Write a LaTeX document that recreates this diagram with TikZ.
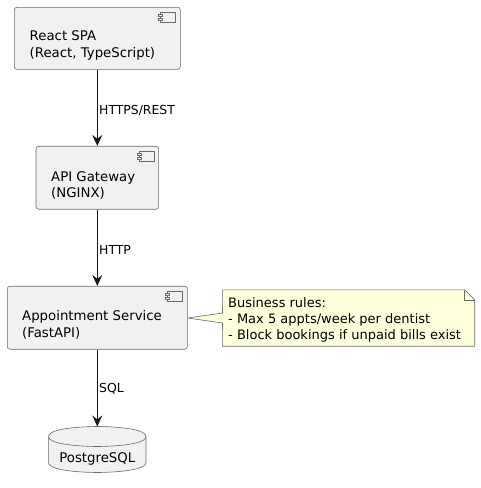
\documentclass[tikz,border=0pt]{standalone}
\usepackage{fontspec}
\setmainfont{DejaVu Sans}
\usetikzlibrary{arrows.meta}
\definecolor{boxfill}{HTML}{F1F1F1}
\definecolor{notefill}{HTML}{FEFFDD}
\definecolor{edgeink}{HTML}{181818}
\definecolor{skinink}{HTML}{6A6A6A}
\tikzset{
	compbox/.style={draw=skinink,fill=boxfill,line width=0.6pt,rounded corners=2.5pt,inner sep=0pt},
	boxtext/.style={anchor=west,align=left,inner sep=0pt,font=\fontsize{13.3}{16.7}\selectfont},
	edgelabel/.style={anchor=west,inner sep=0pt,font=\fontsize{12.4}{16}\selectfont},
	notetext/.style={anchor=west,align=left,inner sep=0pt,font=\fontsize{13}{15.8}\selectfont},
	skin/.style={draw=skinink,line width=0.6pt},
	flow/.style={draw=edgeink,line width=1pt,-{Stealth[length=11pt,width=10pt,inset=4pt]}}
}
\begin{document}
\begin{tikzpicture}[x=1pt,y=-1pt,line join=round]
	\useasboundingbox (0,0) rectangle (481,488);
	\node[compbox,minimum width=166pt,minimum height=62pt] (spa) at (97.3,38.3) {};
	\node[compbox,minimum width=122.6pt,minimum height=63pt] (gateway) at (97.3,177.7) {};
	\node[compbox,minimum width=180pt,minimum height=63pt] (service) at (97.3,317.7) {};
	\node[minimum width=97pt,minimum height=45.6pt,inner sep=0pt] (db) at (97.3,449.5) {};
	\node[minimum width=252pt,minimum height=56pt,inner sep=0pt] (note) at (348.5,318) {};
	%cylinder
	\path[skin,fill=boxfill] ([yshift=-10pt]db.north west)
	.. controls (db.north west) and (db.north) .. (db.north)
	.. controls (db.north) and (db.north east) .. ([yshift=-10pt]db.north east)
	-- ([yshift=10pt]db.south east)
	.. controls (db.south east) and (db.south) .. (db.south)
	.. controls (db.south) and (db.south west) .. ([yshift=10pt]db.south west)
	-- cycle;
	\draw[skin] ([yshift=-10pt]db.north west) .. controls ([yshift=-20pt]db.north west) and ([yshift=-20pt]db.north) .. ([yshift=-20pt]db.north)
	.. controls ([yshift=-20pt]db.north) and ([yshift=-20pt]db.north east) .. ([yshift=-10pt]db.north east);
	%note
	\draw[skin,fill=notefill] (note.north west)--([xshift=-10pt]note.north east)--([yshift=-10pt]note.north east)--(note.south east)--(note.south west)--(222.5,323)--(service.east|-note.west)--(222.5,313)--cycle;
	\draw[skin] ([xshift=-10pt]note.north east)--([xshift=-10pt,yshift=-10pt]note.north east)--([yshift=-10pt]note.north east);
	%icons
	\foreach \x in {spa,gateway,service}{
		\draw[skin,fill=boxfill] ([xshift=-20pt,yshift=-5pt]\x.north east) rectangle ([xshift=-5pt,yshift=-15pt]\x.north east);
		\draw[skin,fill=boxfill] ([xshift=-22pt,yshift=-7pt]\x.north east) rectangle ([xshift=-18pt,yshift=-9pt]\x.north east);
		\draw[skin,fill=boxfill] ([xshift=-22pt,yshift=-11pt]\x.north east) rectangle ([xshift=-18pt,yshift=-13pt]\x.north east);
	}
	%texts
	\node[boxtext] (spatext) at (29.5,45.5) {React SPA\\(React, TypeScript)};
	\node[boxtext] (gatewaytext) at (51,185.5) {API Gateway\\(NGINX)};
	\node[boxtext] (servicetext) at (22,325) {Appointment Service\\(FastAPI)};
	\node[anchor=center,inner sep=0pt,font=\fontsize{13.3}{16.7}\selectfont] (dbtext) at (97.3,459) {PostgreSQL};
	\node[notetext] (notetext) at (228,320) {Business rules:\\- Max 5 appts/week per dentist\\- Block bookings if unpaid bills exist};
	%arrows
	\draw[flow] (spa.south)--(gateway.north);
	\draw[flow] (gateway.south)--(service.north);
	\draw[flow] (service.south)--(db.north);
	\node[edgelabel] (restlabel) at (99,110) {HTTPS/REST};
	\node[edgelabel] (httplabel) at (99,249.5) {HTTP};
	\node[edgelabel] (sqllabel) at (99,389) {SQL};
\end{tikzpicture}
\end{document}
